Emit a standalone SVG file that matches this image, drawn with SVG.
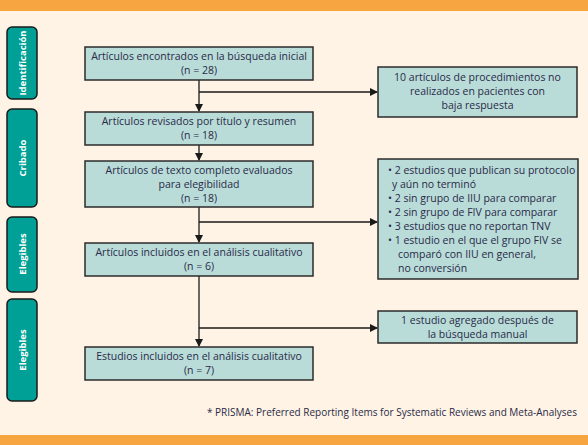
<svg xmlns="http://www.w3.org/2000/svg" width="588" height="445" viewBox="0 0 588 445">
<defs>
<style>
.bg{fill:#fef3e4}
.bar{fill:#f7a541}
.side{fill:#00a096;stroke:#1a1a1a;stroke-width:1.5}
.sidet{fill:#ffffff;font-family:"Open Sans","Liberation Sans",sans-serif;font-size:9.5px;font-weight:bold;text-anchor:middle}
.box{fill:#b9dcd8;stroke:#2b2b2b;stroke-width:1.5}
.t{fill:#2a2a48;font-family:"Open Sans","Liberation Sans",sans-serif;font-size:10.5px;text-anchor:middle}
.tl{fill:#2a2a48;font-family:"Open Sans","Liberation Sans",sans-serif;font-size:10.5px}
.ln{fill:none;stroke:#1a1a1a;stroke-width:1.3}
</style>
<marker id="ah" markerWidth="8" markerHeight="8" refX="7" refY="4" orient="auto" markerUnits="userSpaceOnUse">
<path d="M0,0 L8,4 L0,8 Z" fill="#1a1a1a"/>
</marker>
</defs>
<rect class="bg" x="0" y="0" width="588" height="445"/>
<rect class="bar" x="0" y="0" width="588" height="11"/>
<rect class="bar" x="0" y="435" width="588" height="10"/>

<g id="lbl-identificacion"><rect class="side" x="7" y="27" width="30" height="72" rx="5"/><text class="sidet" transform="translate(25.5,63) rotate(-90)">Identificación</text></g>
<g id="lbl-cribado"><rect class="side" x="7" y="109" width="30" height="98" rx="5"/><text class="sidet" transform="translate(25.5,158) rotate(-90)">Cribado</text></g>
<g id="lbl-elegibles1"><rect class="side" x="7" y="217" width="30" height="75" rx="5"/><text class="sidet" transform="translate(25.5,254) rotate(-90)">Elegibles</text></g>
<g id="lbl-elegibles2"><rect class="side" x="7" y="299" width="30" height="102" rx="5"/><text class="sidet" transform="translate(25.5,350) rotate(-90)">Elegibles</text></g>

<g id="connectors">
<path class="ln" d="M199,80 V111" marker-end="url(#ah)"/>
<path class="ln" d="M199,92 H377" marker-end="url(#ah)"/>
<path class="ln" d="M199,145 V160" marker-end="url(#ah)"/>
<path class="ln" d="M199,207 V242" marker-end="url(#ah)"/>
<path class="ln" d="M199,222 H377" marker-end="url(#ah)"/>
<path class="ln" d="M199,276 V346" marker-end="url(#ah)"/>
<path class="ln" d="M199,328 H377" marker-end="url(#ah)"/>
</g>

<g id="box1"><rect class="box" x="85" y="47" width="228" height="33"/>
<text class="t" x="199" y="60">Artículos encontrados en la búsqueda inicial</text>
<text class="t" x="199" y="74">(n = 28)</text></g>
<g id="box2"><rect class="box" x="85" y="112" width="228" height="33"/>
<text class="t" x="199" y="125">Artículos revisados por título y resumen</text>
<text class="t" x="199" y="139">(n = 18)</text></g>
<g id="box3"><rect class="box" x="85" y="161" width="228" height="46"/>
<text class="t" x="199" y="174">Artículos de texto completo evaluados</text>
<text class="t" x="199" y="188">para elegibilidad</text>
<text class="t" x="199" y="202">(n = 18)</text></g>
<g id="box4"><rect class="box" x="85" y="243" width="228" height="33"/>
<text class="t" x="199" y="256">Artículos incluidos en el análisis cualitativo</text>
<text class="t" x="199" y="270">(n = 6)</text></g>
<g id="box5"><rect class="box" x="85" y="347" width="228" height="33"/>
<text class="t" x="199" y="360">Estudios incluidos en el análisis cualitativo</text>
<text class="t" x="199" y="374">(n = 7)</text></g>

<g id="ex1"><rect class="box" x="378" y="67" width="199" height="50"/>
<text class="t" x="477.5" y="81">10 artículos de procedimientos no</text>
<text class="t" x="477.5" y="95">realizados en pacientes con</text>
<text class="t" x="477.5" y="109">baja respuesta</text></g>
<g id="ex2"><rect class="box" x="378" y="159" width="200" height="120"/>
<text class="tl" x="388" y="174">• 2 estudios que publican su protocolo</text>
<text class="tl" x="392" y="188">y aún no terminó</text>
<text class="tl" x="388" y="202">• 2 sin grupo de IIU para comparar</text>
<text class="tl" x="388" y="216">• 2 sin grupo de FIV para comparar</text>
<text class="tl" x="388" y="230">• 3 estudios que no reportan TNV</text>
<text class="tl" x="388" y="244">• 1 estudio en el que el grupo FIV se</text>
<text class="tl" x="398" y="258">comparó con IIU en general,</text>
<text class="tl" x="398" y="272">no conversión</text></g>
<g id="ex3"><rect class="box" x="378" y="311" width="199" height="32"/>
<text class="t" x="477.5" y="324">1 estudio agregado después de</text>
<text class="t" x="477.5" y="338">la búsqueda manual</text></g>

<text class="tl" x="577" y="416" style="text-anchor:end;font-size:10px">* PRISMA: Preferred Reporting Items for Systematic Reviews and Meta-Analyses</text>
</svg>
